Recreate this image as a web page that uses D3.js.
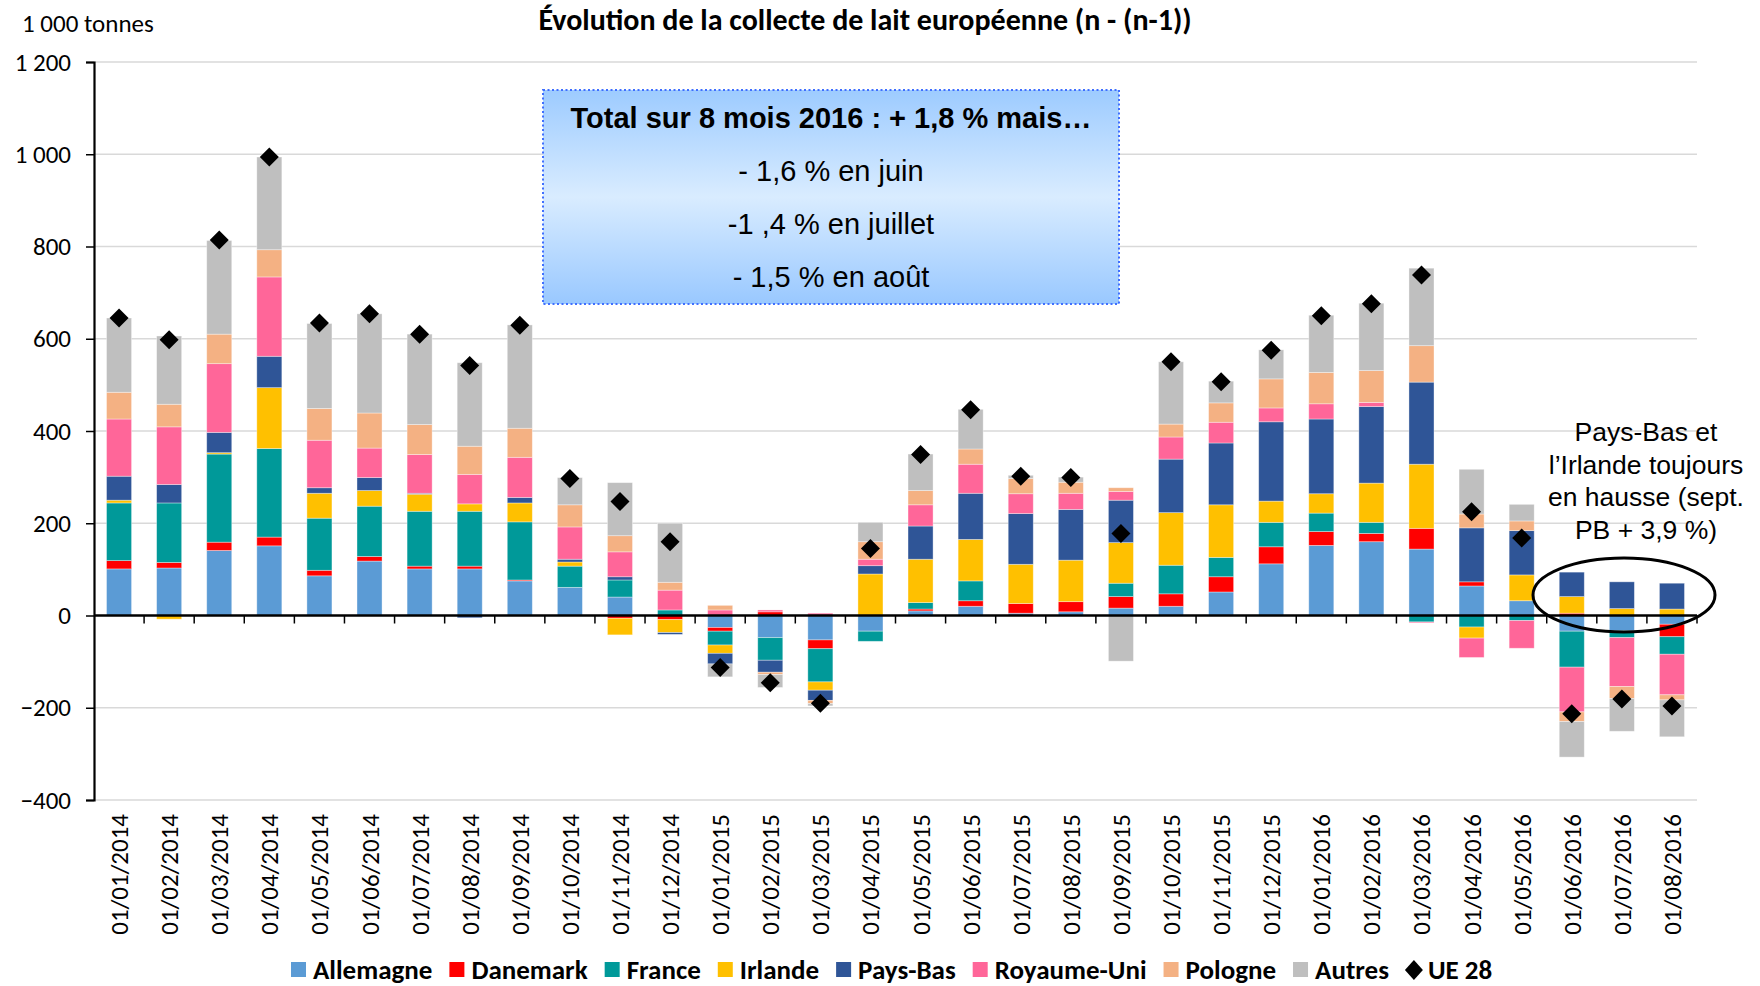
<!DOCTYPE html>
<html>
<head>
<meta charset="utf-8">
<script src="https://cdn.jsdelivr.net/npm/d3@7"></script>
<style>
  body { margin: 0; background: #fff; }
  svg { display: block; }
</style>
</head>
<body>
<div id="chart"></div>
<script>
// months on the x axis
const months = [
  "01/01/2014", "01/02/2014", "01/03/2014", "01/04/2014", "01/05/2014", "01/06/2014",
  "01/07/2014", "01/08/2014", "01/09/2014", "01/10/2014", "01/11/2014", "01/12/2014",
  "01/01/2015", "01/02/2015", "01/03/2015", "01/04/2015", "01/05/2015", "01/06/2015",
  "01/07/2015", "01/08/2015", "01/09/2015", "01/10/2015", "01/11/2015", "01/12/2015",
  "01/01/2016", "01/02/2016", "01/03/2016", "01/04/2016", "01/05/2016", "01/06/2016",
  "01/07/2016", "01/08/2016"
];

// change vs. previous year, 1 000 tonnes
const allemagne   = [101, 103, 141, 151, 86, 118, 101, 101, 75, 61, 40, 0, -26, -48, -53, -34, 10, 20, 5, 8, 16, 20, 51, 112, 152, 160, 144, 64, 32, -34, -33, -19];
const danemark    = [18, 12, 18, 19, 12, 10, 6, 6, 2, 0, -6, -9, -8, 8, -19, 0, 4, 12, 21, 22, 25, 27, 33, 37, 30, 18, 45, 9, 0, 5, 0, -27];
const france      = [125, 129, 191, 192, 113, 109, 119, 119, 126, 46, 37, 12, -30, -49, -72, -22, 14, 43, 0, 0, 29, 62, 42, 53, 40, 24, -14, -25, -11, -78, -15, -38];
const irlande     = [6, -8, 3, 132, 54, 34, 37, 16, 41, 9, -36, -28, -18, 0, -18, 90, 94, 90, 85, 90, 88, 114, 114, 46, 42, 85, 139, -24, 56, 36, 15, 14];
const paysBas     = [52, 40, 44, 68, 12, 28, 2, -5, 12, 6, 7, -4, -23, -26, -22, 18, 72, 100, 110, 110, 92, 116, 134, 172, 162, 166, 178, 117, 96, 53, 58, 56];
const royaumeUni  = [124, 125, 149, 172, 103, 64, 84, 64, 87, 70, 54, 43, 12, 4, 5, 14, 46, 63, 43, 35, 19, 48, 45, 30, 33, 9, -2, -42, -60, -97, -106, -88];
const pologne     = [58, 49, 64, 59, 69, 76, 65, 61, 63, 48, 35, 17, 10, -5, -7, 38, 31, 33, 33, 24, 8, 28, 42, 63, 68, 69, 79, 30, 21, -21, -26, -11];
const autres      = [161, 148, 203, 201, 184, 215, 196, 181, 224, 59, 115, 128, -28, -28, -5, 42, 79, 86, 7, 11, -99, 135, 47, 63, 124, 146, 168, 97, 36, -77, -71, -80];
const ue28        = [645, 598, 814, 994, 634, 654, 610, 542, 629, 297, 247, 160, -113, -146, -190, 145, 349, 446, 302, 299, 178, 550, 507, 575, 650, 676, 738, 225, 168, -213, -181, -196];

const countries = ["Allemagne", "Danemark", "France", "Irlande", "Pays-Bas", "Royaume-Uni", "Pologne", "Autres"];
const seriesValues = [allemagne, danemark, france, irlande, paysBas, royaumeUni, pologne, autres];
const colors = ["#5B9BD5", "#FF0000", "#009999", "#FFC000", "#2F5597", "#FF6699", "#F4B183", "#BFBFBF"];

const yTicks = [-400, -200, 0, 200, 400, 600, 800, 1000, 1200];

const boxLines = ["Total sur 8 mois 2016 : + 1,8 % mais\u2026", "- 1,6 % en juin", "-1 ,4 % en juillet", "- 1,5 % en ao\u00fbt"];
const noteLines = ["Pays-Bas et", "l\u2019Irlande toujours", "en hausse (sept.", "PB + 3,9 %)"];

const W = 1760, H = 986;
const margin = { top: 62, left: 94, right: 63, bottom: 186 };
const calibri = "Carlito, Lato, 'Open Sans', sans-serif";
const arial = "'Liberation Sans', Arial, sans-serif";

// rows for d3.stack
const table = months.map((m, i) => {
  const row = { month: m };
  countries.forEach((c, k) => { row[c] = seriesValues[k][i]; });
  return row;
});

const svg = d3.select("#chart").append("svg")
  .attr("width", W)
  .attr("height", H);

const x = d3.scaleBand()
  .domain(months)
  .range([margin.left, W - margin.right])
  .paddingInner(0.5)
  .paddingOuter(0.25);

const y = d3.scaleLinear()
  .domain([-400, 1200])
  .range([H - margin.bottom, margin.top]);

// gridlines
svg.append("g")
  .selectAll("line")
  .data(yTicks.filter(d => d !== 0))
  .enter().append("line")
  .attr("x1", margin.left)
  .attr("x2", W - margin.right)
  .attr("y1", d => y(d))
  .attr("y2", d => y(d))
  .attr("stroke", "#d9d9d9")
  .attr("stroke-width", 1.5);

// stacked bars, positives up and negatives down like Excel
const stack = d3.stack()
  .keys(countries)
  .offset(d3.stackOffsetDiverging);
const layers = stack(table);

svg.append("g")
  .selectAll("g")
  .data(layers)
  .enter().append("g")
  .attr("fill", (d, i) => colors[i])
  .selectAll("rect")
  .data(d => d)
  .enter().append("rect")
  .attr("x", d => x(d.data.month))
  .attr("width", x.bandwidth())
  .attr("y", d => y(Math.max(d[0], d[1])))
  .attr("height", d => Math.abs(y(d[0]) - y(d[1])))
  .attr("stroke", "#ffffff")
  .attr("stroke-opacity", 0.45)
  .attr("stroke-width", 0.8);

// y axis
const yAxis = svg.append("g")
  .attr("transform", "translate(" + margin.left + ",0)")
  .call(d3.axisLeft(y).tickValues(yTicks).tickSize(8).tickPadding(15)
    .tickFormat(d => d3.format(",")(d).replace(",", " ")));
yAxis.select(".domain").attr("stroke-width", 2.2);
yAxis.selectAll(".tick line").attr("stroke-width", 1.5);
yAxis.selectAll("text")
  .style("font-family", calibri)
  .style("font-size", "25px")
  .attr("fill", "#000");

// zero line with ticks between the months
const step = x.step();
const x0 = margin.left;
svg.append("line")
  .attr("x1", margin.left)
  .attr("x2", W - margin.right)
  .attr("y1", y(0))
  .attr("y2", y(0))
  .attr("stroke", "#000")
  .attr("stroke-width", 2.5);
svg.append("g")
  .selectAll("line")
  .data(d3.range(1, months.length + 1))
  .enter().append("line")
  .attr("x1", i => x0 + i * step)
  .attr("x2", i => x0 + i * step)
  .attr("y1", y(0))
  .attr("y2", y(0) + 8)
  .attr("stroke", "#000")
  .attr("stroke-width", 1.5);

// month labels, rotated
svg.append("g")
  .selectAll("text")
  .data(months)
  .enter().append("text")
  .attr("transform", d => "translate(" + (x(d) + x.bandwidth() / 2 + 9) + "," + (y(-400) + 14) + ") rotate(-90)")
  .attr("text-anchor", "end")
  .style("font-family", calibri)
  .style("font-size", "25px")
  .text(d => d);

// UE 28 diamonds
const diamond = "M0,-9.5L9.5,0L0,9.5L-9.5,0Z";
svg.append("g")
  .selectAll("path")
  .data(ue28)
  .enter().append("path")
  .attr("d", diamond)
  .attr("transform", (d, i) => "translate(" + (x(months[i]) + x.bandwidth() / 2) + "," + y(d) + ")")
  .attr("fill", "#000");

// unit label and title
svg.append("text")
  .attr("x", 22)
  .attr("y", 32)
  .style("font-family", calibri)
  .style("font-size", "25px")
  .text("1 000 tonnes");

svg.append("text")
  .attr("x", 865)
  .attr("y", 30)
  .attr("text-anchor", "middle")
  .style("font-family", calibri)
  .style("font-size", "30px")
  .style("font-weight", "bold")
  .text("\u00c9volution de la collecte de lait europ\u00e9enne (n - (n-1))");

// annotation box
const defs = svg.append("defs");
const grad = defs.append("linearGradient")
  .attr("id", "boxGrad")
  .attr("x1", 0).attr("y1", 0).attr("x2", 0).attr("y2", 1);
grad.append("stop").attr("offset", "0%").attr("stop-color", "#9DCBFF");
grad.append("stop").attr("offset", "50%").attr("stop-color", "#D9ECFF");
grad.append("stop").attr("offset", "100%").attr("stop-color", "#99C8FF");

const box = { x: 543, y: 90, w: 576, h: 214 };
svg.append("rect")
  .attr("x", box.x)
  .attr("y", box.y)
  .attr("width", box.w)
  .attr("height", box.h)
  .attr("fill", "url(#boxGrad)")
  .attr("stroke", "#3F6FFF")
  .attr("stroke-width", 2)
  .attr("stroke-dasharray", "2,2.5");

svg.append("g")
  .selectAll("text")
  .data(boxLines)
  .enter().append("text")
  .attr("x", box.x + box.w / 2)
  .attr("y", (d, i) => 128 + i * 53)
  .attr("text-anchor", "middle")
  .style("font-family", arial)
  .style("font-size", "29px")
  .style("font-weight", (d, i) => i === 0 ? "bold" : "normal")
  .text(d => d);

// right-side note and ellipse
svg.append("g")
  .selectAll("text")
  .data(noteLines)
  .enter().append("text")
  .attr("x", 1646)
  .attr("y", (d, i) => 441 + i * 32.5)
  .attr("text-anchor", "middle")
  .style("font-family", arial)
  .style("font-size", "26.5px")
  .text(d => d);

svg.append("ellipse")
  .attr("cx", 1624)
  .attr("cy", 595)
  .attr("rx", 91)
  .attr("ry", 37)
  .attr("fill", "none")
  .attr("stroke", "#000")
  .attr("stroke-width", 3);

// legend
const legend = svg.append("g");
const legendItems = countries.concat(["UE 28"]);
let lx = 291;
legendItems.forEach((name, i) => {
  const g = legend.append("g").attr("transform", "translate(" + lx + ",970)");
  if (i < countries.length) {
    g.append("rect")
      .attr("x", 0).attr("y", -8)
      .attr("width", 15).attr("height", 15)
      .attr("fill", colors[i]);
  } else {
    g.append("path")
      .attr("d", "M8,-10L17,0L8,10L-1,0Z")
      .attr("fill", "#000");
  }
  const t = g.append("text")
    .attr("x", 22)
    .attr("y", 9)
    .style("font-family", calibri)
    .style("font-size", "27px")
    .style("font-weight", "bold")
    .text(name);
  lx += 22 + t.node().getComputedTextLength() + 17;
});
</script>
</body>
</html>
